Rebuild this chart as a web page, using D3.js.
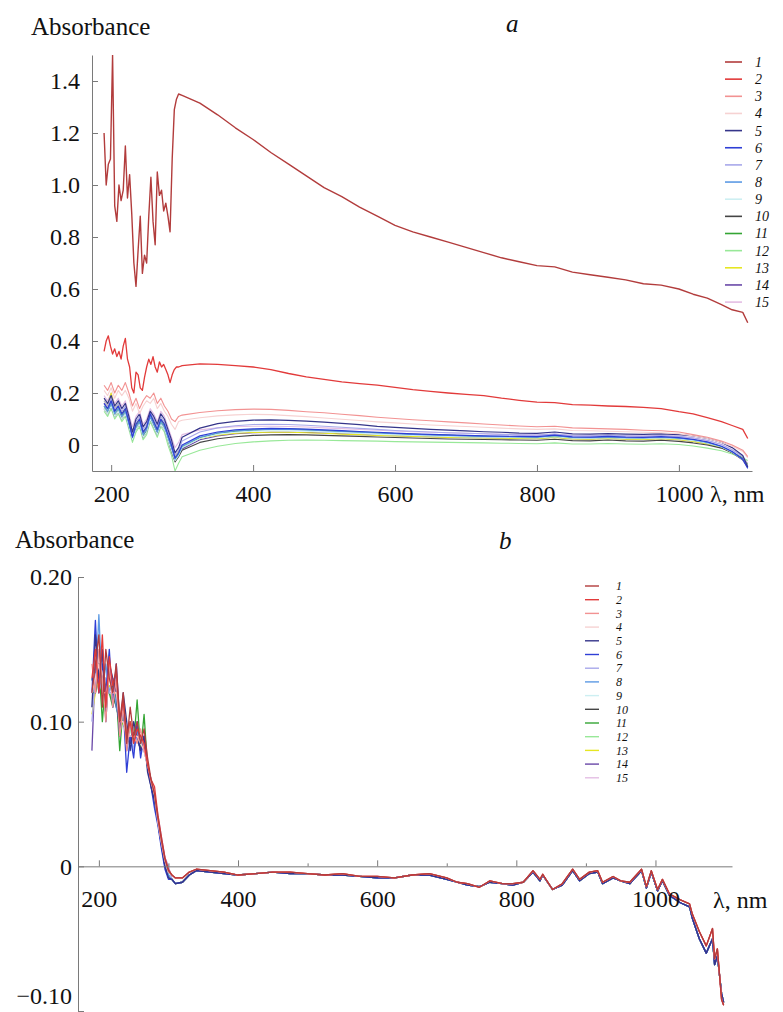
<!DOCTYPE html>
<html>
<head>
<meta charset="utf-8">
<script src="https://cdn.jsdelivr.net/npm/d3@7.9.0/dist/d3.min.js"></script>
<style>
  body { margin: 0; background: #fff; }
  svg text { font-family: "Liberation Serif", "Times New Roman", Tinos, "DejaVu Serif", serif; fill: #111; }
  .axis path, .axis line { stroke: #7a7a7a; }
  .axis text { font-size: 24px; }
</style>
</head>
<body>
<svg id="chart" width="783" height="1012"></svg>
<script>
// legend labels and colours (same for both panels)
const seriesLabels = ['1','2','3','4','5','6','7','8','9','10','11','12','13','14','15'];
const seriesColors = ['#b23c3c','#e23a3a','#f29292','#f6d2d2','#35358a','#2f3fd6','#a8a8ea','#5c9ae4',
                      '#cdeff2','#454545','#34a534','#98e898','#e6e622','#6a48a8','#e4bee4'];

// ---- panel a: wavelengths (nm) ----
const aWaveTail = [300,325,350,375,400,425,450,475,500,525,550,575,600,625,650,675,700,725,750,775,800,825,850,875,900,925,950,975,1000,
  1020,1040,1060,1075,1090,1097];
const aWaveCoarse = [190,195,200,205,210,215,220,225,230,235,240,245,250,255,260,265,270,275,280,285,290,295];
const aWaveFine = [190,193,196,199,202,205,208,211,214,217,220,223,226,229,232,235,238,241,244,247,250,253,256,259,262,265,268,271,274,277,280,283,286,289,292,295];

// samples 1 and 2 read on the fine grid, the rest on the coarse grid
const a1 = [1.20,1.00,1.08,1.10,1.50,0.92,0.86,1.00,0.94,0.98,1.15,0.95,1.04,0.89,0.70,0.61,0.75,0.88,0.66,0.73,0.70,0.88,1.03,0.86,0.77,1.05,0.96,0.98,0.90,0.93,0.88,0.82,1.10,1.29,1.33,1.35,
  1.345,1.315,1.27,1.22,1.175,1.125,1.08,1.035,0.99,0.955,0.915,0.88,0.845,0.82,0.80,0.78,0.76,0.74,0.72,0.705,0.69,0.685,0.665,0.655,0.645,0.635,0.62,0.615,0.60,
  0.58,0.565,0.54,0.52,0.51,0.47];
const a2 = [0.36,0.40,0.42,0.38,0.35,0.37,0.34,0.36,0.33,0.38,0.41,0.33,0.30,0.22,0.20,0.28,0.27,0.22,0.21,0.26,0.30,0.33,0.31,0.34,0.30,0.28,0.32,0.30,0.31,0.29,0.27,0.24,0.27,0.29,0.30,0.30,
  0.305,0.312,0.31,0.305,0.30,0.29,0.275,0.262,0.252,0.243,0.236,0.23,0.222,0.213,0.206,0.20,0.195,0.19,0.18,0.172,0.165,0.163,0.155,0.153,0.15,0.148,0.145,0.14,0.128,
  0.12,0.105,0.09,0.075,0.06,0.025];
const a3 = [0.23,0.21,0.24,0.20,0.23,0.21,0.24,0.20,0.15,0.18,0.14,0.17,0.19,0.18,0.20,0.16,0.18,0.15,0.13,0.10,0.09,0.11,
  0.115,0.125,0.132,0.136,0.138,0.137,0.133,0.128,0.124,0.118,0.113,0.107,0.102,0.097,0.093,0.089,0.085,0.081,0.077,0.073,0.070,0.072,0.066,0.064,0.062,0.060,0.057,0.055,0.050,
  0.040,0.030,0.015,0.0,-0.02,-0.045];
const a4 = [0.21,0.19,0.22,0.18,0.21,0.19,0.21,0.18,0.13,0.16,0.12,0.15,0.17,0.16,0.18,0.14,0.16,0.13,0.11,0.08,0.06,0.09,
  0.095,0.105,0.112,0.116,0.118,0.117,0.113,0.109,0.104,0.099,0.094,0.089,0.085,0.081,0.077,0.074,0.071,0.068,0.065,0.062,0.060,0.062,0.056,0.055,0.053,0.051,0.049,0.047,0.043,
  0.035,0.025,0.01,-0.005,-0.025,-0.05];
const a5 = [0.18,0.16,0.19,0.15,0.17,0.14,0.16,0.11,0.05,0.10,0.12,0.07,0.09,0.13,0.11,0.08,0.12,0.10,0.06,0.02,-0.03,-0.01,
  0.03,0.065,0.082,0.091,0.096,0.097,0.095,0.092,0.088,0.083,0.078,0.072,0.068,0.064,0.060,0.057,0.054,0.051,0.049,0.046,0.045,0.050,0.043,0.042,0.044,0.042,0.041,0.043,0.040,
  0.035,0.025,0.01,-0.01,-0.04,-0.085];
const a6 = [0.16,0.14,0.17,0.13,0.15,0.12,0.14,0.09,0.03,0.08,0.10,0.05,0.07,0.12,0.09,0.06,0.10,0.08,0.04,0.0,-0.05,-0.03,
  0.0,0.035,0.05,0.058,0.062,0.064,0.063,0.061,0.058,0.055,0.052,0.049,0.046,0.043,0.041,0.039,0.037,0.035,0.034,0.033,0.032,0.038,0.031,0.030,0.033,0.030,0.029,0.032,0.028,
  0.022,0.012,-0.005,-0.025,-0.055,-0.09];
const a7 = [0.17,0.15,0.18,0.14,0.16,0.13,0.15,0.10,0.04,0.09,0.11,0.06,0.08,0.125,0.10,0.07,0.11,0.09,0.05,0.01,-0.04,-0.02,
  0.015,0.05,0.066,0.074,0.079,0.08,0.079,0.076,0.072,0.068,0.064,0.06,0.056,0.053,0.05,0.047,0.045,0.043,0.041,0.039,0.038,0.042,0.036,0.035,0.037,0.035,0.034,0.036,0.033,
  0.028,0.018,0.002,-0.018,-0.045,-0.08];
const a8 = [0.15,0.13,0.16,0.12,0.14,0.11,0.13,0.08,0.03,0.07,0.09,0.04,0.06,0.11,0.08,0.05,0.09,0.07,0.03,-0.01,-0.055,-0.035,
  -0.005,0.03,0.046,0.054,0.058,0.06,0.06,0.058,0.055,0.052,0.049,0.046,0.043,0.041,0.039,0.037,0.035,0.033,0.032,0.031,0.030,0.036,0.029,0.028,0.031,0.028,0.027,0.030,0.026,
  0.02,0.01,-0.006,-0.026,-0.055,-0.085];
const a9 = [0.14,0.12,0.15,0.11,0.13,0.10,0.12,0.07,0.02,0.06,0.08,0.03,0.05,0.10,0.07,0.04,0.08,0.06,0.02,-0.02,-0.06,-0.04,
  -0.01,0.025,0.041,0.049,0.053,0.055,0.055,0.053,0.05,0.047,0.044,0.041,0.039,0.037,0.035,0.033,0.031,0.030,0.029,0.028,0.027,0.032,0.026,0.025,0.028,0.025,0.024,0.027,0.023,
  0.017,0.007,-0.008,-0.028,-0.055,-0.08];
const a10 = [0.14,0.12,0.15,0.11,0.13,0.10,0.12,0.07,0.025,0.06,0.08,0.03,0.05,0.10,0.07,0.04,0.08,0.06,0.02,-0.025,-0.065,-0.045,
  -0.02,0.01,0.024,0.032,0.037,0.039,0.04,0.039,0.037,0.035,0.033,0.031,0.029,0.027,0.025,0.023,0.022,0.021,0.02,0.019,0.018,0.022,0.017,0.016,0.019,0.016,0.015,0.018,0.014,
  0.008,0.0,-0.012,-0.03,-0.055,-0.08];
const a11 = [0.15,0.13,0.16,0.12,0.14,0.11,0.13,0.075,0.02,0.07,0.09,0.035,0.055,0.11,0.08,0.045,0.09,0.07,0.025,-0.015,-0.06,-0.04,
  -0.01,0.028,0.045,0.053,0.058,0.061,0.061,0.059,0.056,0.053,0.05,0.047,0.044,0.041,0.039,0.037,0.035,0.033,0.031,0.030,0.029,0.033,0.028,0.027,0.030,0.027,0.026,0.029,0.025,
  0.018,0.008,-0.008,-0.028,-0.05,-0.075];
const a12 = [0.13,0.11,0.14,0.10,0.12,0.09,0.11,0.06,0.01,0.05,0.07,0.02,0.04,0.09,0.06,0.03,0.07,0.05,0.0,-0.04,-0.10,-0.07,
  -0.045,-0.02,-0.005,0.006,0.012,0.016,0.018,0.019,0.018,0.017,0.016,0.015,0.013,0.012,0.011,0.010,0.009,0.008,0.007,0.006,0.005,0.008,0.004,0.004,0.006,0.004,0.003,0.005,0.002,
  -0.004,-0.012,-0.022,-0.035,-0.05,-0.06];
const a13 = [0.17,0.15,0.20,0.14,0.16,0.12,0.14,0.09,0.035,0.08,0.10,0.05,0.07,0.12,0.09,0.06,0.10,0.08,0.035,0.0,-0.045,-0.025,
  -0.005,0.025,0.038,0.045,0.048,0.049,0.049,0.047,0.045,0.042,0.04,0.037,0.035,0.033,0.031,0.029,0.028,0.027,0.026,0.025,0.024,0.029,0.023,0.022,0.025,0.022,0.021,0.024,0.020,
  0.014,0.004,-0.01,-0.03,-0.055,-0.08];
const a14 = [0.16,0.14,0.17,0.13,0.15,0.115,0.135,0.085,0.03,0.075,0.095,0.045,0.065,0.115,0.085,0.055,0.095,0.075,0.03,-0.01,-0.06,-0.04,
  -0.015,0.02,0.035,0.043,0.047,0.049,0.049,0.048,0.046,0.043,0.041,0.038,0.036,0.034,0.032,0.030,0.029,0.028,0.027,0.026,0.025,0.030,0.024,0.023,0.026,0.023,0.022,0.025,0.021,
  0.015,0.005,-0.01,-0.03,-0.058,-0.085];
const a15 = [0.19,0.17,0.20,0.16,0.18,0.15,0.17,0.12,0.07,0.11,0.13,0.08,0.10,0.14,0.12,0.09,0.13,0.11,0.07,0.03,-0.01,0.01,
  0.04,0.058,0.066,0.07,0.072,0.072,0.071,0.069,0.066,0.063,0.06,0.057,0.054,0.051,0.049,0.047,0.045,0.043,0.041,0.039,0.038,0.042,0.036,0.035,0.037,0.035,0.034,0.036,0.033,
  0.027,0.017,0.002,-0.018,-0.045,-0.07];
const aSeries = [a1,a2,a3,a4,a5,a6,a7,a8,a9,a10,a11,a12,a13,a14,a15];

// ---- panel b: noisy UV part per sample, then shared tails ----
const bWaveHead = [190,195,200,205,210,215,220,225,230,235,240,245,250,255,260,265,270,275,280,285,290,295,300];
const bWaveTail = [305,310,320,330,340,360,380,400,425,450,475,500,525,550,575,600,625,650,675,700,715,730,747,762,780,
  795,810,824,834,838,852,866,881,891,905,917,924,939,950,963,980,987,994,1003,1010,1020,1035,1049,1053,1063,1073,1082,1085,1089,1095,1098];
const bTailRed = [-0.006,-0.008,-0.008,-0.004,-0.002,-0.003,-0.004,-0.006,-0.005,-0.004,-0.004,-0.005,-0.006,-0.005,-0.007,
  -0.007,-0.008,-0.006,-0.005,-0.008,-0.011,-0.012,-0.0145,-0.010,-0.012,-0.012,-0.011,-0.003,-0.009,-0.0055,
  -0.016,-0.012,-0.002,-0.009,-0.004,-0.003,-0.011,-0.007,-0.010,-0.011,-0.002,-0.014,-0.003,-0.016,-0.009,
  -0.019,-0.023,-0.026,-0.033,-0.045,-0.055,-0.043,-0.064,-0.057,-0.092,-0.096];
const bTailBlue = [-0.009,-0.012,-0.011,-0.006,-0.003,-0.004,-0.005,-0.006,-0.005,-0.004,-0.005,-0.005,-0.006,-0.006,-0.007,
  -0.008,-0.008,-0.006,-0.006,-0.009,-0.011,-0.013,-0.014,-0.011,-0.012,-0.013,-0.011,-0.004,-0.010,-0.006,
  -0.016,-0.013,-0.003,-0.010,-0.005,-0.004,-0.012,-0.008,-0.010,-0.012,-0.003,-0.015,-0.004,-0.017,-0.010,
  -0.020,-0.025,-0.028,-0.036,-0.050,-0.060,-0.050,-0.068,-0.062,-0.088,-0.094];

const b1 = [0.12,0.14,0.16,0.11,0.15,0.13,0.12,0.14,0.10,0.12,0.085,0.11,0.09,0.10,0.085,0.095,0.075,0.06,0.05,0.033,0.018,0.005,-0.003];
const b2 = [0.13,0.15,0.12,0.16,0.11,0.145,0.125,0.135,0.10,0.115,0.09,0.10,0.085,0.095,0.09,0.085,0.07,0.06,0.055,0.035,0.02,0.006,-0.002];
const b3 = [0.14,0.12,0.15,0.13,0.10,0.14,0.11,0.13,0.09,0.11,0.08,0.10,0.09,0.085,0.095,0.08,0.072,0.058,0.05,0.032,0.017,0.004,-0.004];
const b4 = [0.12,0.13,0.14,0.12,0.12,0.13,0.12,0.12,0.10,0.10,0.09,0.09,0.09,0.09,0.085,0.08,0.07,0.06,0.05,0.03,0.016,0.004,-0.004];
const b5 = [0.11,0.16,0.13,0.15,0.10,0.14,0.13,0.12,0.09,0.12,0.10,0.08,0.10,0.09,0.08,0.09,0.065,0.055,0.045,0.03,0.015,0.0,-0.008];
const b6 = [0.12,0.17,0.12,0.14,0.12,0.15,0.11,0.14,0.10,0.11,0.065,0.09,0.075,0.10,0.075,0.09,0.07,0.055,0.04,0.028,0.012,-0.002,-0.009];
const b7 = [0.10,0.13,0.14,0.12,0.13,0.12,0.12,0.13,0.09,0.11,0.09,0.10,0.08,0.09,0.09,0.08,0.07,0.06,0.05,0.035,0.02,0.006,0.0];
const b8 = [0.13,0.12,0.174,0.12,0.14,0.12,0.13,0.11,0.10,0.11,0.085,0.09,0.08,0.095,0.085,0.08,0.07,0.055,0.045,0.03,0.015,0.003,-0.006];
const b9 = [0.12,0.13,0.13,0.12,0.13,0.12,0.12,0.12,0.10,0.10,0.09,0.09,0.085,0.09,0.085,0.08,0.07,0.058,0.048,0.03,0.016,0.004,-0.004];
const b10 = [0.13,0.12,0.14,0.13,0.12,0.14,0.12,0.11,0.10,0.10,0.09,0.085,0.09,0.09,0.08,0.085,0.07,0.058,0.05,0.032,0.017,0.003,-0.006];
const b11 = [0.12,0.12,0.14,0.10,0.13,0.12,0.11,0.12,0.08,0.11,0.09,0.10,0.085,0.115,0.08,0.105,0.068,0.058,0.048,0.03,0.016,0.003,-0.006];
const b12 = [0.12,0.13,0.13,0.12,0.12,0.12,0.115,0.12,0.10,0.10,0.09,0.095,0.085,0.095,0.085,0.085,0.07,0.058,0.048,0.03,0.016,0.004,-0.004];
const b13 = [0.105,0.12,0.13,0.12,0.12,0.125,0.12,0.12,0.095,0.10,0.09,0.09,0.085,0.09,0.085,0.08,0.07,0.058,0.048,0.03,0.016,0.004,-0.004];
const b14 = [0.08,0.14,0.12,0.15,0.11,0.14,0.12,0.13,0.09,0.11,0.08,0.10,0.085,0.09,0.08,0.09,0.07,0.06,0.045,0.03,0.014,0.0,-0.008];
const b15 = [0.11,0.12,0.13,0.12,0.12,0.12,0.12,0.12,0.10,0.10,0.09,0.09,0.085,0.09,0.085,0.08,0.07,0.06,0.05,0.033,0.018,0.006,0.0];
const bHeads = [b1,b2,b3,b4,b5,b6,b7,b8,b9,b10,b11,b12,b13,b14,b15];
const bTailOf = [bTailRed,bTailRed,bTailRed,bTailRed,bTailBlue,bTailBlue,bTailBlue,bTailBlue,
                 bTailBlue,bTailBlue,bTailBlue,bTailBlue,bTailBlue,bTailBlue,bTailBlue];

// ticks
const aXTicks = [200,400,600,800,1000];
const aYTicks = [0,0.2,0.4,0.6,0.8,1.0,1.2,1.4];
const bXTicks = [200,400,600,800,1000];
const bXMinor = [300,500,700,900];
const bYTicks = [-0.1,0,0.1,0.2];

const svg = d3.select('#chart');
const defs = svg.append('defs');

function drawPanel(cfg) {
  const { x, y, waves, series, id } = cfg;
  const [x0, x1] = x.range();
  const [yb, yt] = y.range();

  defs.append('clipPath').attr('id', id)
    .append('rect').attr('x', x0).attr('y', yt).attr('width', x1 - x0).attr('height', yb - yt);

  const line = d3.line().x(d => x(d[0])).y(d => y(d[1]));
  const g = svg.append('g').attr('clip-path', `url(#${id})`);
  // draw 15 first, 1 last (on top)
  for (let i = series.length - 1; i >= 0; i--) {
    const pts = waves[i].map((w, k) => [w, series[i][k]]);
    g.append('path')
      .attr('d', line(pts))
      .attr('fill', 'none')
      .attr('stroke', seriesColors[i])
      .attr('stroke-width', cfg.widths[i])
      .attr('stroke-linejoin', 'round');
  }
}

// ---- panel a ----
const xA = d3.scaleLinear().domain([173, 1103]).range([92, 752]);
const yA = d3.scaleLinear().domain([-0.1, 1.5]).range([471, 55]);
const aWaves = aSeries.map((s, i) => (i < 2 ? aWaveFine : aWaveCoarse).concat(aWaveTail));

drawPanel({ id: 'clipA', x: xA, y: yA, waves: aWaves, series: aSeries,
  widths: [1.4,1.3,1.1,1.1,1.2,1.2,1.1,1.1,1.1,1.1,1.1,1.1,1.1,1.1,1.1] });

svg.append('g').attr('class', 'axis').attr('transform', 'translate(92,0)')
  .call(d3.axisLeft(yA).tickValues(aYTicks).tickSize(-6).tickSizeOuter(0).tickPadding(12)
    .tickFormat(d => d === 0 ? '0' : d.toFixed(1)));
svg.append('g').attr('class', 'axis').attr('transform', 'translate(0,471)')
  .call(d3.axisBottom(xA).tickValues(aXTicks).tickSize(-6).tickSizeOuter(0).tickPadding(14)
    .tickFormat(d3.format('d')));

svg.append('text').attr('x', 31).attr('y', 35).attr('font-size', 25).text('Absorbance');
svg.append('text').attr('x', 506).attr('y', 32).attr('font-size', 25).attr('font-style', 'italic').text('a');
svg.append('text').attr('x', 710).attr('y', 502).attr('font-size', 24).text('λ, nm');

// legend a
const legA = svg.append('g');
seriesLabels.forEach((lab, i) => {
  const yy = 62 + i * 17.15;
  legA.append('line').attr('x1', 725).attr('x2', 742).attr('y1', yy).attr('y2', yy)
    .attr('stroke', seriesColors[i]).attr('stroke-width', 1.6);
  legA.append('text').attr('x', 755).attr('y', yy).attr('dy', '0.35em')
    .attr('font-size', 14).attr('font-style', 'italic').text(lab);
});

// ---- panel b ----
const xB = d3.scaleLinear().domain([170, 1110]).range([78, 732]);
const yB = d3.scaleLinear().domain([-0.1, 0.2]).range([1011, 577]);
const bWave = bWaveHead.concat(bWaveTail);
const bSeries = bHeads.map((h, i) => h.concat(bTailOf[i]));

drawPanel({ id: 'clipB', x: xB, y: yB, waves: bSeries.map(() => bWave), series: bSeries,
  widths: bSeries.map(() => 1.3) });

const yAxisB = svg.append('g').attr('class', 'axis').attr('transform', 'translate(78,0)')
  .call(d3.axisLeft(yB).tickValues(bYTicks).tickSize(-6).tickSizeOuter(0).tickPadding(6)
    .tickFormat(d => d === 0 ? '0' : (d < 0 ? '\u2212' : '') + Math.abs(d).toFixed(2)));
// keep the bottom label inside the picture
yAxisB.selectAll('.tick text').filter(d => d < 0).attr('dy', '-0.3em');
const xAxisYB = yB(0);
svg.append('g').attr('class', 'axis').attr('transform', `translate(0,${xAxisYB})`)
  .call(d3.axisBottom(xB).tickValues(bXTicks).tickSize(-6).tickSizeOuter(0).tickPadding(24)
    .tickFormat(d3.format('d')));
svg.append('g').attr('class', 'axis').attr('transform', `translate(0,${xAxisYB})`)
  .call(d3.axisBottom(xB).tickValues(bXMinor).tickSize(-3).tickSizeOuter(0).tickFormat(''))
  .select('.domain').remove();

svg.append('text').attr('x', 15).attr('y', 548).attr('font-size', 25).text('Absorbance');
svg.append('text').attr('x', 499).attr('y', 549).attr('font-size', 25).attr('font-style', 'italic').text('b');
svg.append('text').attr('x', 713).attr('y', 908).attr('font-size', 24).text('λ, nm');

// legend b
const legB = svg.append('g');
seriesLabels.forEach((lab, i) => {
  const yy = 586 + i * 13.7;
  legB.append('line').attr('x1', 585).attr('x2', 599).attr('y1', yy).attr('y2', yy)
    .attr('stroke', seriesColors[i]).attr('stroke-width', 1.4);
  legB.append('text').attr('x', 616).attr('y', yy).attr('dy', '0.35em')
    .attr('font-size', 12).attr('font-style', 'italic').text(lab);
});
</script>
</body>
</html>
